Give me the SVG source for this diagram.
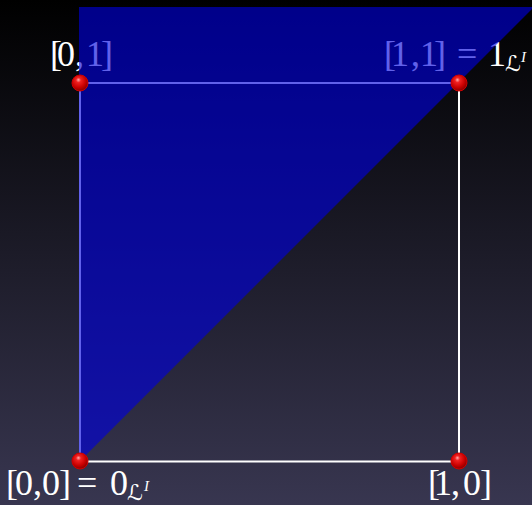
<svg xmlns="http://www.w3.org/2000/svg" width="532" height="505" viewBox="0 0 532 505">
<defs>
<linearGradient id="bg" x1="0" y1="0" x2="0" y2="1">
<stop offset="0" stop-color="#000000"/>
<stop offset="1" stop-color="#383650"/>
</linearGradient>
<radialGradient id="ball" cx="0.42" cy="0.38" r="0.62" fx="0.4" fy="0.3">
<stop offset="0" stop-color="#ffb0b0"/>
<stop offset="0.25" stop-color="#f02020"/>
<stop offset="0.7" stop-color="#c80000"/>
<stop offset="1" stop-color="#8a0000"/>
</radialGradient>
<style>
.edge{stroke:#ffffff;stroke-width:2;fill:none}
.lbl{font-family:"Liberation Serif","Times New Roman",serif;font-size:36px;fill:#ffffff}
.sub{font-family:"DejaVu Serif","DejaVu Sans",serif;font-size:22px;fill:#ffffff}
.sup{font-family:"Liberation Serif",serif;font-size:15px;font-style:italic;fill:#ffffff}
.pt{fill:url(#ball);stroke:#d00000;stroke-width:1}
</style>
</defs>
<rect x="0" y="0" width="532" height="505" fill="url(#bg)"/>
<g id="connectors">
<line class="edge" x1="80" y1="83" x2="459" y2="83"/>
<line class="edge" x1="459" y1="83" x2="459" y2="461.5"/>
<line class="edge" x1="80" y1="461.5" x2="459" y2="461.5"/>
<line class="edge" x1="80" y1="83" x2="80" y2="461.5"/>
</g>
<g id="label-01">
<text class="lbl" y="66" x="50 57 75 86 101">[0,1]</text>
</g>
<g id="label-11">
<text class="lbl" y="66" x="384 391 411 420 434">[1,1]</text>
<text class="lbl" y="66" x="457 488">=1</text>
<text class="sub" x="505" y="71">ℒ</text>
<text class="sup" x="521" y="62">I</text>
</g>
<g id="label-00">
<text class="lbl" y="495" x="6 15 33 42 59">[0,0]</text>
<text class="lbl" y="495" x="77 110">=0</text>
<text class="sub" x="127" y="500">ℒ</text>
<text class="sup" x="144" y="491">I</text>
</g>
<g id="label-10">
<text class="lbl" y="495" x="428 434 451 463 480">[1,0]</text>
</g>
<polygon id="region" points="79,7 534,7 79,462" fill="#0000de" fill-opacity="0.62"/>
<g id="node-00"><circle class="pt" cx="80" cy="461" r="8"/></g>
<g id="node-10"><circle class="pt" cx="459" cy="461" r="8"/></g>
<g id="node-01"><circle class="pt" cx="80" cy="83" r="8"/></g>
<g id="node-11"><circle class="pt" cx="459" cy="83" r="8"/></g>
</svg>
